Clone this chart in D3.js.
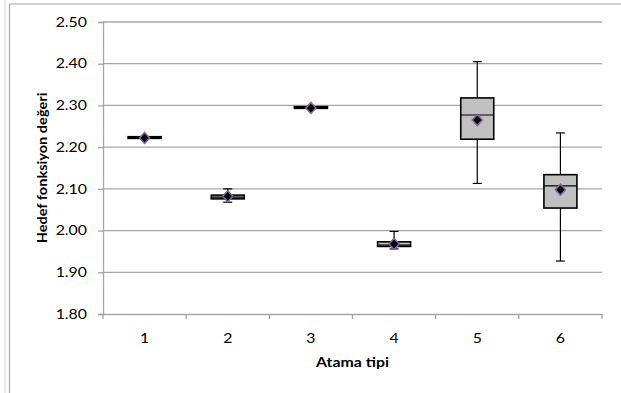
<!DOCTYPE html>
<html>
<head>
<meta charset="utf-8">
<script src="https://cdn.jsdelivr.net/npm/d3@7"></script>
<style>
  body { margin: 0; background: #fff; }
  svg text { font-family: Lato, "Noto Sans", sans-serif; fill: #000; }
</style>
</head>
<body>
<div id="chart"></div>
<script>
// box plot values
const categories = ["1", "2", "3", "4", "5", "6"];
const whiskerLow  = [2.221, 2.068, 2.293, 1.956, 2.113, 1.927];
const q1          = [2.221, 2.076, 2.293, 1.962, 2.219, 2.054];
const median      = [2.223, 2.080, 2.295, 1.965, 2.277, 2.107];
const q3          = [2.225, 2.085, 2.297, 1.973, 2.318, 2.134];
const whiskerHigh = [2.225, 2.100, 2.297, 1.998, 2.405, 2.234];
const means       = [2.222, 2.082, 2.294, 1.968, 2.265, 2.098];
const yTicks = [1.8, 1.9, 2.0, 2.1, 2.2, 2.3, 2.4, 2.5];

const W = 621, H = 393;
const margin = { top: 22, right: 19, bottom: 79, left: 103 };
const width = W - margin.left - margin.right;
const height = H - margin.top - margin.bottom;
const stretch = 1.22; // the original text is drawn wider than it is tall

const svg = d3.select("#chart").append("svg")
  .attr("width", W)
  .attr("height", H);

// outer frame (only left + top visible in the original)
svg.append("line").attr("x1", 5).attr("x2", 5).attr("y1", 0).attr("y2", H)
  .attr("stroke", "#e2e2e2").attr("stroke-width", 1.5);
svg.append("line").attr("x1", 9.5).attr("x2", 9.5).attr("y1", 4).attr("y2", H)
  .attr("stroke", "#a6a6a6").attr("stroke-width", 1.2);
svg.append("line").attr("x1", 9.5).attr("x2", W).attr("y1", 4).attr("y2", 4)
  .attr("stroke", "#a6a6a6").attr("stroke-width", 1.2);

const chart = svg.append("g")
  .attr("transform", `translate(${margin.left}, ${margin.top})`);

const x = d3.scaleBand()
  .domain(categories)
  .range([0, width]);
const y = d3.scaleLinear()
  .domain([1.8, 2.5])
  .range([height, 0]);

// gridlines
chart.append("g")
  .selectAll("line")
  .data(yTicks.slice(1))
  .join("line")
  .attr("x1", 0).attr("x2", width)
  .attr("y1", d => y(d)).attr("y2", d => y(d))
  .attr("stroke", "#a6a6a6").attr("stroke-width", 1.3);

// y axis
const yAxis = chart.append("g")
  .call(d3.axisLeft(y).tickValues(yTicks).tickFormat(d3.format(".2f")).tickSize(5).tickPadding(11));
yAxis.select(".domain").attr("stroke", "#a6a6a6").attr("stroke-width", 1.3);
yAxis.selectAll(".tick line").attr("stroke", "#a6a6a6").attr("stroke-width", 1.3);
yAxis.selectAll("text")
  .style("font-size", "13px").attr("fill", "#000")
  .attr("x", 0)
  .attr("transform", `translate(-16, 0) scale(${stretch}, 1)`);

// x axis
const xAxis = chart.append("g")
  .attr("transform", `translate(0, ${height})`)
  .call(d3.axisBottom(x).tickSize(0).tickPadding(15));
xAxis.select(".domain").attr("stroke", "#a6a6a6").attr("stroke-width", 1.3);
xAxis.selectAll("text")
  .style("font-size", "13px").attr("fill", "#000")
  .attr("y", 0)
  .attr("dy", 0)
  .attr("transform", `translate(0, 29) scale(${stretch}, 1)`);
// category boundary ticks
chart.append("g")
  .selectAll("line")
  .data(categories.map(c => x(c)).concat([width]))
  .join("line")
  .attr("x1", d => d).attr("x2", d => d)
  .attr("y1", height).attr("y2", height + 5)
  .attr("stroke", "#a6a6a6").attr("stroke-width", 1.3);

// axis titles
svg.append("text")
  .attr("transform", `translate(${margin.left + width / 2}, 367) scale(${stretch}, 1)`)
  .attr("text-anchor", "middle")
  .style("font-size", "13px")
  .style("font-weight", "bold")
  .text("Atama tipi");
svg.append("text")
  .attr("transform", `translate(47, ${margin.top + height / 2}) rotate(-90) scale(1.12, 1)`)
  .attr("text-anchor", "middle")
  .style("font-size", "13px")
  .style("font-weight", "bold")
  .text("Hedef fonksiyon  değeri");

// boxes
const boxW = 33, capW = 9;
const boxes = chart.append("g")
  .selectAll("g")
  .data(categories.map((c, i) => ({
    c, lo: whiskerLow[i], q1: q1[i], med: median[i], q3: q3[i], hi: whiskerHigh[i], mean: means[i]
  })))
  .join("g")
  .attr("transform", d => `translate(${x(d.c) + x.bandwidth() / 2}, 0)`);

boxes.append("line")
  .attr("x1", 0).attr("x2", 0)
  .attr("y1", d => y(d.hi)).attr("y2", d => y(d.lo))
  .attr("stroke", "#000").attr("stroke-width", 1.2);
boxes.append("line")
  .attr("x1", -capW / 2).attr("x2", capW / 2)
  .attr("y1", d => y(d.hi)).attr("y2", d => y(d.hi))
  .attr("stroke", "#000").attr("stroke-width", 1.2);
boxes.append("line")
  .attr("x1", -capW / 2).attr("x2", capW / 2)
  .attr("y1", d => y(d.lo)).attr("y2", d => y(d.lo))
  .attr("stroke", "#000").attr("stroke-width", 1.2);
boxes.append("rect")
  .attr("x", -boxW / 2)
  .attr("width", boxW)
  .attr("y", d => y(d.q3))
  .attr("height", d => y(d.q1) - y(d.q3))
  .attr("fill", "#c0c0c0")
  .attr("stroke", "#000")
  .attr("stroke-width", 1.6);
boxes.append("line")
  .attr("x1", -boxW / 2).attr("x2", boxW / 2)
  .attr("y1", d => y(d.med)).attr("y2", d => y(d.med))
  .attr("stroke", "#000").attr("stroke-width", 1.2);

// mean markers
boxes.append("path")
  .attr("transform", d => `translate(0, ${y(d.mean)})`)
  .attr("d", "M0,-5.5L5,0L0,5.5L-5,0Z")
  .attr("fill", "#000")
  .attr("stroke", "#8064a2")
  .attr("stroke-width", 1.5);
</script>
</body>
</html>
